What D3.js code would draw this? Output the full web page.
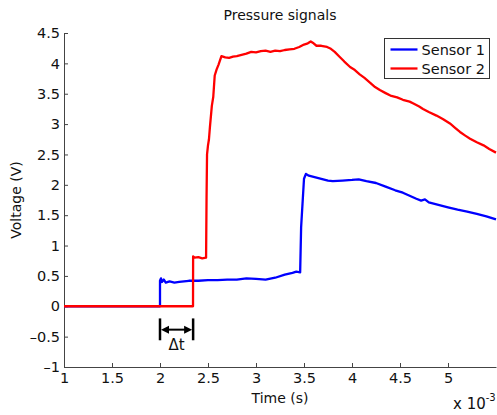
<!DOCTYPE html>
<html>
<head>
<meta charset="utf-8">
<script src="https://d3js.org/d3.v7.min.js"></script>
<style>
  body { margin: 0; background: #fff; }
  text { font-family: "DejaVu Sans", sans-serif; fill: #111; }
</style>
</head>
<body>
<div id="chart"></div>
<script>
// time in ms (axis shows x 10^-3 s), voltage in V
var sensor1 = [
  [1.0, 0], [2.0, 0], [2.0, 0.42], [2.01, 0.46], [2.02, 0.40], [2.04, 0.44], [2.06, 0.39],
  [2.1, 0.41], [2.15, 0.39], [2.2, 0.40], [2.3, 0.42], [2.4, 0.42], [2.5, 0.43], [2.6, 0.43],
  [2.7, 0.44], [2.8, 0.44], [2.9, 0.46], [3.0, 0.45], [3.1, 0.44], [3.2, 0.47], [3.3, 0.52],
  [3.38, 0.55], [3.42, 0.57], [3.46, 0.56], [3.47, 1.3], [3.50, 2.1], [3.52, 2.18], [3.55, 2.15],
  [3.6, 2.13], [3.65, 2.11], [3.7, 2.09], [3.75, 2.07], [3.8, 2.06], [3.9, 2.07], [4.0, 2.08],
  [4.07, 2.09], [4.15, 2.06], [4.25, 2.03], [4.35, 1.97], [4.45, 1.91], [4.53, 1.87], [4.6, 1.82],
  [4.67, 1.77], [4.72, 1.74], [4.76, 1.76], [4.8, 1.71], [4.9, 1.67], [5.0, 1.63], [5.1, 1.59],
  [5.2, 1.56], [5.3, 1.52], [5.4, 1.48], [5.5, 1.43]
];
var sensor2 = [
  [1.0, 0], [2.344, 0], [2.345, 0.82], [2.36, 0.80], [2.4, 0.81], [2.44, 0.79], [2.48, 0.80],
  [2.485, 1.8], [2.49, 2.5], [2.5, 2.65], [2.51, 2.75], [2.52, 2.95], [2.54, 3.3], [2.555, 3.45],
  [2.57, 3.8], [2.59, 3.9], [2.61, 3.98], [2.64, 4.12], [2.68, 4.10], [2.72, 4.09], [2.76, 4.11],
  [2.8, 4.12], [2.85, 4.14], [2.9, 4.16], [2.95, 4.19], [3.0, 4.18], [3.05, 4.20], [3.1, 4.21],
  [3.15, 4.19], [3.2, 4.21], [3.25, 4.20], [3.3, 4.22], [3.35, 4.23], [3.4, 4.24], [3.45, 4.27],
  [3.5, 4.31], [3.54, 4.33], [3.57, 4.36], [3.6, 4.33], [3.63, 4.29], [3.68, 4.29], [3.74, 4.27],
  [3.78, 4.24], [3.82, 4.19], [3.87, 4.11], [3.92, 4.03], [3.98, 3.94], [4.03, 3.89], [4.08, 3.82],
  [4.13, 3.76], [4.19, 3.68], [4.24, 3.61], [4.29, 3.56], [4.35, 3.51], [4.40, 3.47], [4.47, 3.44],
  [4.53, 3.40], [4.6, 3.37], [4.64, 3.34], [4.7, 3.29], [4.74, 3.25], [4.8, 3.20], [4.88, 3.14],
  [4.95, 3.08], [5.02, 3.01], [5.08, 2.93], [5.125, 2.87], [5.18, 2.81], [5.23, 2.76], [5.3, 2.70],
  [5.37, 2.65], [5.43, 2.59], [5.5, 2.53]
];
var seriesNames = ["Sensor 1", "Sensor 2"];
var seriesColors = ["#0000ff", "#ff0000"];
var xTicks = [1, 1.5, 2, 2.5, 3, 3.5, 4, 4.5, 5];
var yTicks = [-1, -0.5, 0, 0.5, 1, 1.5, 2, 2.5, 3, 3.5, 4, 4.5];
// delta t marker: from sensor 1 onset to sensor 2 onset
var dtStart = 2.0, dtEnd = 2.345;

// set the dimensions and margins of the graph
var margin = { top: 33, right: 1, bottom: 48, left: 64 },
  width = 497 - margin.left - margin.right,
  height = 415 - margin.top - margin.bottom;

var svg = d3
  .select("#chart")
  .append("svg")
  .attr("width", width + margin.left + margin.right)
  .attr("height", height + margin.top + margin.bottom);

var g = svg
  .append("g")
  .attr("transform", "translate(" + margin.left + "," + margin.top + ")");

var x = d3.scaleLinear().domain([1, 5.5]).range([0, width]);
var y = d3.scaleLinear().domain([-1, 4.5]).range([height, 0]);

var fmt = function (d) {
  return d < 0 ? "\u2013" + Math.abs(d) : "" + d;
};

// axes, ticks pointing inward
var xAxis = g
  .append("g")
  .attr("transform", "translate(0," + height + ")")
  .call(d3.axisBottom(x).tickValues(xTicks).tickFormat(fmt).tickSizeInner(-4).tickSizeOuter(0).tickPadding(6));
var yAxis = g
  .append("g")
  .call(d3.axisLeft(y).tickValues(yTicks).tickFormat(fmt).tickSizeInner(-4).tickSizeOuter(0).tickPadding(4));

[xAxis, yAxis].forEach(function (a) {
  a.selectAll("path, line").attr("stroke", "#444");
  a.selectAll("text").style("font-size", "14.5px").attr("fill", "#111");
});

// lines
var line = d3
  .line()
  .x(function (d) { return x(d[0]); })
  .y(function (d) { return y(d[1]); });

[sensor1, sensor2].forEach(function (s, i) {
  g.append("path")
    .datum(s)
    .attr("fill", "none")
    .attr("stroke", seriesColors[i])
    .attr("stroke-width", 2.3)
    .attr("stroke-linejoin", "round")
    .attr("d", line);
});

// delta t annotation
var barTop = y(-0.2), barBot = y(-0.56), arrowY = y(-0.385);
[dtStart, dtEnd].forEach(function (t) {
  g.append("line")
    .attr("x1", x(t)).attr("x2", x(t))
    .attr("y1", barTop).attr("y2", barBot)
    .attr("stroke", "#000").attr("stroke-width", 2.5);
});
g.append("line")
  .attr("x1", x(dtStart) + 5).attr("x2", x(dtEnd) - 5)
  .attr("y1", arrowY).attr("y2", arrowY)
  .attr("stroke", "#000").attr("stroke-width", 2);
g.append("path")
  .attr("d", "M" + (x(dtStart) + 1) + "," + arrowY + "l8,-4v8z")
  .attr("fill", "#000");
g.append("path")
  .attr("d", "M" + (x(dtEnd) - 1) + "," + arrowY + "l-8,-4v8z")
  .attr("fill", "#000");
g.append("text")
  .attr("x", (x(dtStart) + x(dtEnd)) / 2)
  .attr("y", y(-0.72))
  .attr("text-anchor", "middle")
  .style("font-size", "15px")
  .text("\u0394t");

// title and labels
svg.append("text")
  .attr("x", margin.left + width / 2)
  .attr("y", 20)
  .attr("text-anchor", "middle")
  .style("font-size", "14px")
  .text("Pressure signals");

svg.append("text")
  .attr("x", margin.left + width / 2)
  .attr("y", 403)
  .attr("text-anchor", "middle")
  .style("font-size", "14px")
  .text("Time (s)");

svg.append("text")
  .attr("transform", "translate(21," + (margin.top + height / 2) + ") rotate(-90)")
  .attr("text-anchor", "middle")
  .style("font-size", "14px")
  .text("Voltage (V)");

var expo = svg.append("text")
  .attr("x", 453)
  .attr("y", 409)
  .style("font-size", "15px");
expo.append("tspan").text("x 10");
expo.append("tspan").attr("dy", -8).style("font-size", "10px").text("-3");

// legend
var legend = svg.append("g").attr("transform", "translate(384.5,38.5)");
legend.append("rect")
  .attr("width", 105).attr("height", 40)
  .attr("fill", "#fff").attr("stroke", "#333");
seriesNames.forEach(function (name, i) {
  var ly = 11 + i * 19;
  legend.append("line")
    .attr("x1", 6).attr("x2", 33)
    .attr("y1", ly).attr("y2", ly)
    .attr("stroke", seriesColors[i]).attr("stroke-width", 2.3);
  legend.append("text")
    .attr("x", 37).attr("y", ly + 5)
    .style("font-size", "14.5px")
    .text(name);
});
</script>
</body>
</html>
